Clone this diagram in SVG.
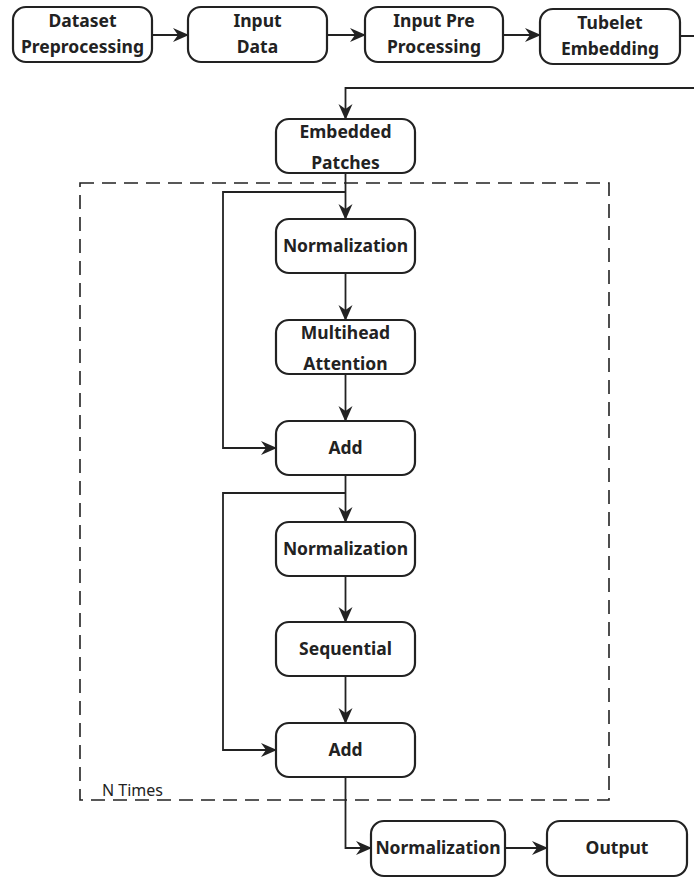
<svg xmlns="http://www.w3.org/2000/svg" width="694" height="880" viewBox="0 0 694 880">
<style>
.box{fill:#fff;stroke:#222;stroke-width:2.2}
.t{font-family:"Noto Sans","Liberation Sans",sans-serif;font-weight:bold;font-size:17.5px;fill:#222;text-anchor:middle}
.lbl{font-family:"Noto Sans","Liberation Sans",sans-serif;font-size:16px;fill:#222}
.c{fill:none;stroke:#222;stroke-width:1.8}
.dash{fill:none;stroke:#222;stroke-width:1.6;stroke-dasharray:14 8}
</style>
<defs>
<marker id="ah" markerUnits="userSpaceOnUse" markerWidth="16" markerHeight="16" refX="15" refY="8" orient="auto">
<path d="M0,1 L16,8 L0,15 L5,8 Z" fill="#222"/>
</marker>
</defs>
<rect class="dash" x="80" y="183" width="529" height="617"/>
<text class="lbl" x="102" y="796">N Times</text>
<g id="connectors">
<path class="c" d="M152,35 H188" marker-end="url(#ah)"/>
<path class="c" d="M327,35 H365" marker-end="url(#ah)"/>
<path class="c" d="M503,35 H540" marker-end="url(#ah)"/>
<path class="c" d="M680,36 H700 V88 H345.5 V119" marker-end="url(#ah)"/>
<path class="c" d="M345.5,173 V219" marker-end="url(#ah)"/>
<path class="c" d="M345.5,192 H223 V448 H276" marker-end="url(#ah)"/>
<path class="c" d="M345.5,273 V320" marker-end="url(#ah)"/>
<path class="c" d="M345.5,374 V421" marker-end="url(#ah)"/>
<path class="c" d="M345.5,475 V522" marker-end="url(#ah)"/>
<path class="c" d="M345.5,493 H223 V750 H276" marker-end="url(#ah)"/>
<path class="c" d="M345.5,576 V622" marker-end="url(#ah)"/>
<path class="c" d="M345.5,676 V723" marker-end="url(#ah)"/>
<path class="c" d="M345.5,777 V848 H371" marker-end="url(#ah)"/>
<path class="c" d="M505,848 H547" marker-end="url(#ah)"/>
</g>
<g id="dataset"><rect class="box" x="13" y="7" width="139" height="55" rx="13"/><text class="t" x="82.5" y="27">Dataset</text><text class="t" x="82.5" y="53">Preprocessing</text></g>
<g id="input"><rect class="box" x="188" y="7" width="139" height="55" rx="13"/><text class="t" x="257.5" y="27">Input</text><text class="t" x="257.5" y="53">Data</text></g>
<g id="inputpre"><rect class="box" x="365" y="7" width="138" height="55" rx="13"/><text class="t" x="434" y="27">Input Pre</text><text class="t" x="434" y="53">Processing</text></g>
<g id="tubelet"><rect class="box" x="540" y="9" width="140" height="55" rx="13"/><text class="t" x="610" y="29">Tubelet</text><text class="t" x="610" y="55">Embedding</text></g>
<g id="embedded"><rect class="box" x="276" y="119" width="139" height="54" rx="13"/><text class="t" x="345.5" y="138">Embedded</text><text class="t" x="345.5" y="169">Patches</text></g>
<g id="norm1"><rect class="box" x="276" y="219" width="139" height="54" rx="13"/><text class="t" x="345.5" y="252">Normalization</text></g>
<g id="mha"><rect class="box" x="276" y="320" width="139" height="54" rx="13"/><text class="t" x="345.5" y="339">Multihead</text><text class="t" x="345.5" y="370">Attention</text></g>
<g id="add1"><rect class="box" x="276" y="421" width="139" height="54" rx="13"/><text class="t" x="345.5" y="454">Add</text></g>
<g id="norm2"><rect class="box" x="276" y="522" width="139" height="54" rx="13"/><text class="t" x="345.5" y="555">Normalization</text></g>
<g id="seq"><rect class="box" x="276" y="622" width="139" height="54" rx="13"/><text class="t" x="345.5" y="655">Sequential</text></g>
<g id="add2"><rect class="box" x="276" y="723" width="139" height="54" rx="13"/><text class="t" x="345.5" y="756">Add</text></g>
<g id="norm3"><rect class="box" x="371" y="821" width="134" height="55" rx="13"/><text class="t" x="438" y="854">Normalization</text></g>
<g id="output"><rect class="box" x="547" y="821" width="140" height="55" rx="13"/><text class="t" x="617" y="854">Output</text></g>
</svg>
